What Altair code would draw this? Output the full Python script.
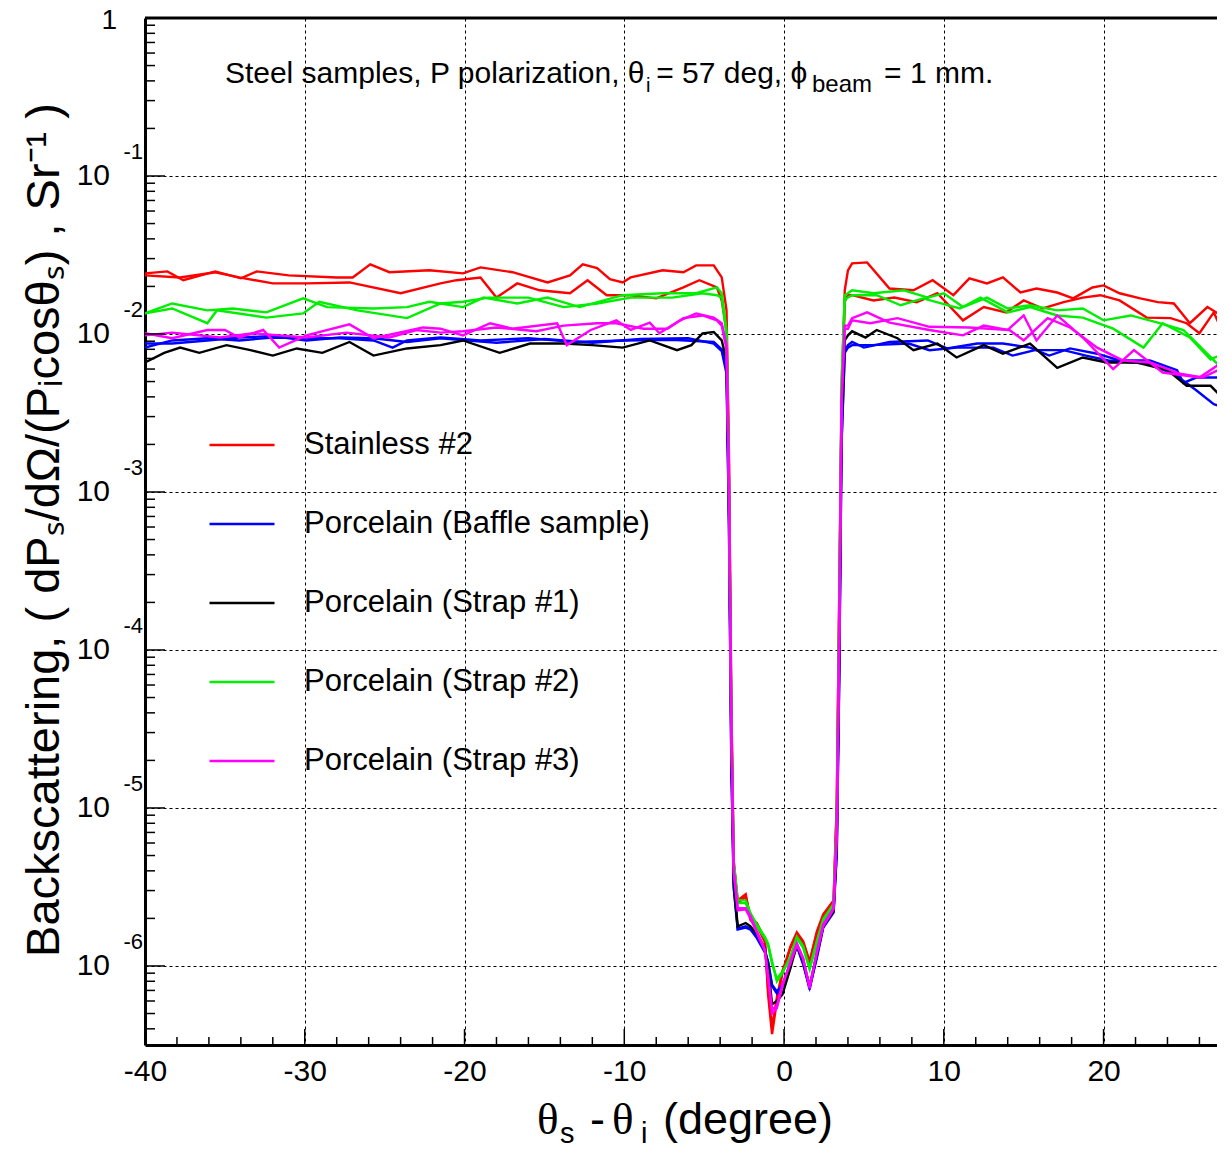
import altair as alt
import pandas as pd

# ---------------- data ----------------
SERIES = ["Stainless #2", "Porcelain (Baffle sample)", "Porcelain (Strap #1)",
          "Porcelain (Strap #2)", "Porcelain (Strap #3)"]
COLORS = ["#ff0000", "#0000ff", "#000000", "#00ee00", "#ff00ff"]

# common x grid of the specular notch
CX = [-3.6, -3.45, -3.3, -3.15, -2.9, -2.4, -2.1, -1.7, -1.2, -1.0, -0.75, -0.45,
      -0.1, 0.4, 0.8, 1.2, 1.6, 2.05, 2.45, 3.1, 3.3, 3.45, 3.6, 3.8]

# ---- Stainless #2 (red), run 1
RED1_LX = [-40, -38.6, -37.6, -35.6, -34, -33, -31, -28, -27, -25.9, -24.7, -22.2, -20.1, -19,
           -17, -14.8, -13.4, -12.6, -11.7, -10.9, -10.1, -9.6, -7.6, -6.3, -5.5, -4.4, -3.9]
RED1_LY = [0.0242, 0.0249, 0.0219, 0.0249, 0.0225, 0.0249, 0.0235, 0.0228, 0.0228, 0.0276, 0.0246,
           0.0253, 0.0242, 0.0264, 0.0246, 0.0212, 0.0235, 0.0276, 0.0261, 0.0222, 0.0212, 0.0228,
           0.0253, 0.0246, 0.0272, 0.0272, 0.0228]
RED1_CY = [0.0141, 0.00183, 4.8e-5, 4.6e-6, 2.6e-6, 2.85e-6, 2.0e-6, 1.87e-6, 1.47e-6, 6.6e-7,
           3.7e-7, 6.0e-7, 9.0e-7, 1.33e-6, 1.63e-6, 1.43e-6, 1.07e-6, 1.65e-6, 2.12e-6, 2.6e-6,
           1.1e-5, 2.05e-4, 0.0038, 0.0189]
RED1_RX = [4.0, 4.26, 5.2, 6.6, 8.1, 9.3, 10.6, 11.6, 12.7, 13.7, 14.8, 15.8, 17.1, 18.1, 19.3,
           20, 21, 22.3, 23.4, 24.4, 25.4, 26.5, 27.6]
RED1_RY = [0.0253, 0.0280, 0.0284, 0.0194, 0.0189, 0.0219, 0.0176, 0.0225, 0.0209, 0.0228, 0.0183,
           0.0194, 0.0183, 0.0168, 0.0197, 0.0203, 0.0181, 0.0168, 0.0159, 0.0156, 0.0117, 0.0148,
           0.0127]

# ---- Stainless #2 (red), run 2
RED2_LX = [-40, -37.8, -35.6, -34.1, -32, -29.9, -27.2, -24, -21.5, -20.5, -19, -18, -16.7,
           -15.3, -13.4, -12.3, -11.1, -9.6, -8, -6.3, -5.3, -4.2, -3.9]
RED2_LY = [0.0235, 0.0228, 0.0246, 0.0228, 0.0209, 0.0209, 0.0212, 0.0181, 0.0209, 0.0219, 0.0228,
           0.0170, 0.0209, 0.0189, 0.0181, 0.0219, 0.0176, 0.0176, 0.0168, 0.0197, 0.0219, 0.0197,
           0.0163]
RED2_CY = [0.0105, 0.0015, 4.2e-5, 4.4e-6, 2.5e-6, 2.75e-6, 1.95e-6, 1.8e-6, 1.42e-6, 7.2e-7,
           4.1e-7, 6.3e-7, 9.3e-7, 1.3e-6, 1.58e-6, 1.4e-6, 1.05e-6, 1.6e-6, 2.05e-6, 2.55e-6,
           1.0e-5, 1.9e-4, 0.0034, 0.0160]
RED2_RX = [4.0, 4.26, 5.6, 6.9, 8.3, 9.6, 11.2, 12.5, 13.9, 15, 16.2, 17.5, 18.7, 19.8, 21, 22.7,
           24.2, 25.2, 26, 26.9, 27.6]
RED2_RY = [0.0176, 0.0176, 0.0163, 0.0170, 0.0159, 0.0181, 0.0122, 0.0148, 0.0137, 0.0163, 0.0145,
           0.0159, 0.0170, 0.0176, 0.0163, 0.0127, 0.0126, 0.0117, 0.0101, 0.0137, 0.0095]

# ---- Porcelain (Baffle sample) (blue), run 1
BLU1_LX = [-40, -38.3, -36.1, -34.1, -32, -29.9, -27.8, -25.7, -24.5, -23.6, -21.5, -19, -16,
           -13, -10, -7, -4.4, -3.9]
BLU1_LY = [0.0082, 0.0091, 0.0094, 0.0091, 0.0095, 0.0094, 0.0094, 0.0091, 0.0082, 0.0091, 0.0095,
           0.0091, 0.0094, 0.0089, 0.0091, 0.0092, 0.0089, 0.0080]
BLU1_CY = [0.0059, 6.6e-4, 1.99e-5, 3.2e-6, 1.72e-6, 1.78e-6, 1.72e-6, 1.53e-6, 1.24e-6, 1.07e-6,
           7.45e-7, 6.7e-7, 7.45e-7, 1.04e-6, 1.36e-6, 1.04e-6, 7.1e-7, 1.15e-6, 1.78e-6, 2.22e-6,
           5.33e-6, 6.4e-5, 2.12e-3, 0.0079]
BLU1_RX = [4.0, 4.26, 5, 6.6, 9, 10.2, 12.1, 13.7, 15.4, 16.6, 17.9, 19.6, 21, 22.9, 24.6, 25,
           25.8, 27.6]
BLU1_RY = [0.0085, 0.0089, 0.0082, 0.0089, 0.0091, 0.0081, 0.0087, 0.0087, 0.0082, 0.0073, 0.0081,
           0.0075, 0.0068, 0.0068, 0.0059, 0.0049, 0.0053, 0.0053]

# ---- Porcelain (Baffle sample) (blue), run 2
BLU2_LX = [-40, -38.3, -36.1, -34.1, -32, -29.9, -27.8, -25.7, -23.6, -21.5, -18, -15, -12, -9,
           -6, -4.4, -3.9]
BLU2_LY = [0.0087, 0.0087, 0.0091, 0.0095, 0.0097, 0.0091, 0.0095, 0.0094, 0.0089, 0.0094, 0.0088,
           0.0093, 0.0088, 0.0093, 0.0094, 0.0087, 0.0078]
BLU2_CY = [0.0056, 6.2e-4, 1.9e-5, 3.1e-6, 1.7e-6, 1.75e-6, 1.7e-6, 1.5e-6, 1.22e-6, 1.05e-6,
           7.6e-7, 6.9e-7, 7.6e-7, 1.02e-6, 1.33e-6, 1.02e-6, 7.3e-7, 1.12e-6, 1.74e-6, 2.18e-6,
           5.1e-6, 6.0e-5, 2.0e-3, 0.0076]
BLU2_RX = [4.0, 4.26, 5.5, 7.8, 9.1, 10.8, 13.1, 14.3, 15.7, 17.5, 18.9, 20.3, 22.7, 24.4, 25.8,
           26.9, 27.6]
BLU2_RY = [0.0082, 0.0085, 0.0085, 0.0087, 0.0079, 0.0082, 0.0082, 0.0073, 0.0079, 0.0079, 0.0073,
           0.0068, 0.0065, 0.0056, 0.0044, 0.0036, 0.0034]

# ---- Porcelain (Strap #1) (black)
BLK_LX = [-40, -38.8, -37.8, -36.6, -34.9, -33.4, -32, -30.5, -28.9, -27.2, -25.7, -23.6, -21.5,
          -20.1, -17.8, -15.9, -13.8, -12, -10.1, -8.4, -6.7, -5.8, -5.1, -4.4, -3.9]
BLK_LY = [0.0066, 0.0076, 0.0082, 0.0076, 0.0085, 0.0079, 0.0073, 0.0081, 0.0076, 0.0089, 0.0073,
          0.0081, 0.0085, 0.0091, 0.0076, 0.0087, 0.0087, 0.0085, 0.0082, 0.0091, 0.0079, 0.0085,
          0.0101, 0.0103, 0.0091]
BLK_CY = [0.0068, 8.8e-4, 2.66e-5, 3.44e-6, 1.78e-6, 1.87e-6, 1.78e-6, 1.59e-6, 1.30e-6, 1.0e-6,
          5.73e-7, 6.0e-7, 6.6e-7, 9.7e-7, 1.36e-6, 1.07e-6, 7.45e-7, 1.19e-6, 1.78e-6, 2.22e-6,
          6.2e-6, 8.5e-5, 2.83e-3, 0.0091]
BLK_RX = [4.0, 4.26, 5.1, 5.8, 7.1, 8.1, 9.6, 10.8, 12.5, 13.7, 15.4, 17.1, 18.7, 20.2, 22.1, 24,
          25.2, 26.7, 27.6]
BLK_RY = [0.0098, 0.0104, 0.0095, 0.0106, 0.0094, 0.0079, 0.0087, 0.0071, 0.0085, 0.0075, 0.0087,
          0.0061, 0.0071, 0.0066, 0.0066, 0.0059, 0.0047, 0.0047, 0.0038]

# ---- Porcelain (Strap #2) (green), run 1
GRN1_LX = [-40, -38.3, -36.1, -34.5, -32.4, -30.1, -28.6, -25.7, -23.6, -22.2, -20.1, -18.8,
           -16.7, -14.8, -12.8, -10.1, -7.6, -5.5, -4.2, -3.9]
GRN1_LY = [0.0135, 0.0156, 0.0141, 0.0145, 0.0137, 0.0168, 0.0148, 0.0145, 0.0148, 0.0160, 0.0148,
           0.0170, 0.0156, 0.0170, 0.0148, 0.0176, 0.0181, 0.0181, 0.0197, 0.0181]
GRN1_CY = [0.0105, 0.00118, 3.56e-5, 4.6e-6, 2.6e-6, 2.6e-6, 2.16e-6, 1.83e-6, 1.53e-6, 1.39e-6,
           1.07e-6, 8.0e-7, 9.0e-7, 1.15e-6, 1.53e-6, 1.33e-6, 9.7e-7, 1.43e-6, 1.98e-6, 2.47e-6,
           8.3e-6, 1.53e-4, 0.0051, 0.0176]
GRN1_RX = [4.0, 4.26, 5.6, 7.5, 9, 10, 11.2, 12.7, 14, 15.4, 17.1, 18.7, 20, 21.7, 23.4, 25,
           27.1, 27.6]
GRN1_RY = [0.0181, 0.0189, 0.0181, 0.0189, 0.0170, 0.0181, 0.0148, 0.0170, 0.0145, 0.0152, 0.0141,
           0.0145, 0.0122, 0.0131, 0.0118, 0.0106, 0.0065, 0.0074]

# ---- Porcelain (Strap #2) (green), run 2
GRN2_LX = [-40, -38.3, -36.1, -35.5, -32.4, -30.1, -29.1, -26.7, -23.6, -21.5, -20.1, -18.5, -16,
           -13.8, -11.7, -9.6, -7, -5.1, -4.2, -3.9]
GRN2_LY = [0.0135, 0.0145, 0.0117, 0.0141, 0.0127, 0.0135, 0.0160, 0.0141, 0.0126, 0.0156, 0.0160,
           0.0170, 0.0170, 0.0148, 0.0156, 0.0170, 0.0170, 0.0181, 0.0176, 0.0170]
GRN2_CY = [0.0098, 0.0011, 3.3e-5, 4.4e-6, 2.5e-6, 2.5e-6, 2.1e-6, 1.78e-6, 1.5e-6, 1.35e-6,
           1.03e-6, 8.3e-7, 9.2e-7, 1.12e-6, 1.5e-6, 1.3e-6, 9.5e-7, 1.4e-6, 1.92e-6, 2.4e-6,
           7.9e-6, 1.45e-4, 0.0048, 0.0165]
GRN2_RX = [4.0, 4.26, 5.8, 7.3, 8.7, 11, 12.3, 14, 15.4, 17.1, 18.7, 20.6, 22.5, 23.7, 25.4, 26.7,
           27.6]
GRN2_RY = [0.0170, 0.0176, 0.0176, 0.0152, 0.0168, 0.0145, 0.0170, 0.0137, 0.0148, 0.0131, 0.0127,
           0.0108, 0.0082, 0.0117, 0.0095, 0.0069, 0.0076]

# ---- Porcelain (Strap #3) (magenta), run 1
MAG1_LX = [-40, -38.3, -36.1, -35, -34.1, -32.6, -31.6, -29.9, -27.2, -25.7, -22.6, -21.5, -20.1,
           -18.4, -17, -14.2, -13.6, -12.1, -10.5, -9.6, -8.4, -7.8, -6.5, -5.5, -4.4, -3.9]
MAG1_LY = [0.0101, 0.0094, 0.0106, 0.0106, 0.0095, 0.0106, 0.0082, 0.0098, 0.0115, 0.0094, 0.0110,
           0.0108, 0.0098, 0.0117, 0.0108, 0.0117, 0.0085, 0.0106, 0.0122, 0.0106, 0.0118, 0.0101,
           0.0122, 0.0135, 0.0127, 0.0117]
MAG1_CY = [0.0085, 0.00118, 3.56e-5, 3.99e-6, 2.32e-6, 2.32e-6, 2.07e-6, 1.65e-6, 1.28e-6, 8.4e-7,
           5.0e-7, 5.4e-7, 7.45e-7, 1.07e-6, 1.39e-6, 1.12e-6, 7.2e-7, 1.24e-6, 1.83e-6, 2.32e-6,
           7.15e-6, 1.14e-4, 0.0038, 0.0113]
MAG1_RX = [4.0, 4.26, 5.2, 6.6, 9.1, 11.2, 12.5, 14, 15, 15.8, 17.1, 18.7, 20.6, 21.9, 23.7, 26,
           27.6]
MAG1_RY = [0.0113, 0.0126, 0.0137, 0.0118, 0.0106, 0.0098, 0.0113, 0.0106, 0.0131, 0.0091, 0.0131,
           0.0095, 0.0060, 0.0079, 0.0057, 0.0053, 0.0068]

# ---- Porcelain (Strap #3) (magenta), run 2
MAG2_LX = [-40, -38.3, -35.3, -33.2, -29.9, -27.4, -24.7, -23, -21.5, -20.1, -18, -15.5, -13.8,
           -11.7, -10.5, -8.8, -7.3, -6.3, -5.1, -4.2, -3.9]
MAG2_LY = [0.0098, 0.0102, 0.0095, 0.0101, 0.0095, 0.0102, 0.0095, 0.0106, 0.0102, 0.0104, 0.0110,
           0.0104, 0.0113, 0.0117, 0.0117, 0.0108, 0.0108, 0.0126, 0.0131, 0.0122, 0.0113]
MAG2_CY = [0.0080, 0.0011, 3.4e-5, 3.9e-6, 2.25e-6, 2.28e-6, 2.0e-6, 1.62e-6, 1.25e-6, 8.8e-7,
           5.3e-7, 5.6e-7, 7.7e-7, 1.04e-6, 1.36e-6, 1.1e-6, 7.4e-7, 1.2e-6, 1.78e-6, 2.28e-6,
           6.9e-6, 1.08e-4, 0.0036, 0.0108]
MAG2_RX = [4.0, 4.26, 5.4, 7.1, 9.1, 11.6, 14.1, 15, 16.5, 17.9, 19.6, 21.2, 22.9, 24.8, 26.2,
           27.6]
MAG2_RY = [0.0108, 0.0122, 0.0117, 0.0126, 0.0111, 0.0110, 0.0106, 0.0091, 0.0126, 0.0110, 0.0082,
           0.0068, 0.0066, 0.0056, 0.0053, 0.0062]

# axis decorations
X_MAJOR = [-40, -30, -20, -10, 0, 10, 20]
X_MINOR = [-38, -36, -34, -32, -28, -26, -24, -22, -18, -16, -14, -12, -8, -6, -4, -2,
           2, 4, 6, 8, 12, 14, 16, 18, 22, 24, 26]
Y_DECADES = [1e-1, 1e-2, 1e-3, 1e-4, 1e-5, 1e-6]
Y_EXPONENTS = ["-1", "-2", "-3", "-4", "-5", "-6"]
Y_MINOR = [m * 10.0 ** e for e in range(-7, 0) for m in range(2, 10) if m * 10.0 ** e >= 3.2e-7]

# ---------------- build table ----------------
traces = [
    ("r1", SERIES[0], RED1_LX, RED1_LY, RED1_CY, RED1_RX, RED1_RY),
    ("r2", SERIES[0], RED2_LX, RED2_LY, RED2_CY, RED2_RX, RED2_RY),
    ("b1", SERIES[1], BLU1_LX, BLU1_LY, BLU1_CY, BLU1_RX, BLU1_RY),
    ("b2", SERIES[1], BLU2_LX, BLU2_LY, BLU2_CY, BLU2_RX, BLU2_RY),
    ("k1", SERIES[2], BLK_LX, BLK_LY, BLK_CY, BLK_RX, BLK_RY),
    ("g1", SERIES[3], GRN1_LX, GRN1_LY, GRN1_CY, GRN1_RX, GRN1_RY),
    ("g2", SERIES[3], GRN2_LX, GRN2_LY, GRN2_CY, GRN2_RX, GRN2_RY),
    ("m1", SERIES[4], MAG1_LX, MAG1_LY, MAG1_CY, MAG1_RX, MAG1_RY),
    ("m2", SERIES[4], MAG2_LX, MAG2_LY, MAG2_CY, MAG2_RX, MAG2_RY),
]
rows = []
for tid, name, lx, ly, cy, rx, ry in traces:
    xs = list(lx) + list(CX) + list(rx)
    ys = list(ly) + list(cy) + list(ry)
    for i, (a, b) in enumerate(zip(xs, ys)):
        rows.append({"trace": tid, "series": name, "x": a, "y": b, "i": i})
df = pd.DataFrame(rows)

W, H = 1072, 1027
FONT = "Liberation Sans"
SERIF = "Liberation Serif"
xsc = alt.Scale(domain=[-40, 27.1], nice=False, zero=False)
ysc = alt.Scale(type="log", domain=[3.16e-7, 1], nice=False)

AX = alt.Axis(values=X_MAJOR, title=None, labelFontSize=30, labelFont=FONT, labelColor="black",
              tickSize=0, labelPadding=11, labelFlush=False, labelExpr="'' + datum.value",
              domainColor="black", domainWidth=3,
              grid=True, gridColor="black", gridDash=[3, 3], gridWidth=1, gridOpacity=1)
AY = alt.Axis(values=Y_DECADES, title=None, labels=False, ticks=False,
              domainColor="black", domainWidth=3,
              grid=True, gridColor="black", gridDash=[3, 3], gridWidth=1, gridOpacity=1)


def X(field):
    return alt.X(field, scale=xsc, axis=AX)


def Y(field):
    return alt.Y(field, scale=ysc, axis=AY)


lines = alt.Chart(df).mark_line(strokeWidth=2.4, clip=True).encode(
    x=X("x:Q"),
    y=Y("y:Q"),
    color=alt.Color("series:N", scale=alt.Scale(domain=SERIES, range=COLORS),
                    legend=alt.Legend(orient="none", legendX=63, legendY=393, title=None,
                                      symbolType="stroke", symbolSize=4225,
                                      symbolStrokeWidth=2.5, labelFontSize=31,
                                      labelFont=FONT, labelColor="black", rowPadding=30,
                                      labelOffset=28, padding=0, labelLimit=800)),
    detail="trace:N",
    order=alt.Order("i:Q"),
)

xmaj_df = pd.DataFrame({"x": X_MAJOR[1:]})
xmin_df = pd.DataFrame({"x": X_MINOR})
ymaj_df = pd.DataFrame({"y": Y_DECADES})
ymin_df = pd.DataFrame({"y": Y_MINOR})

xmaj_ticks = alt.Chart(xmaj_df).mark_rule(color="black", strokeWidth=1.5).encode(
    x=X("x:Q"), y=alt.value(H), y2=alt.value(H - 16))
xmin_ticks = alt.Chart(xmin_df).mark_rule(color="black", strokeWidth=1.5).encode(
    x=X("x:Q"), y=alt.value(H), y2=alt.value(H - 8))
ymaj_ticks = alt.Chart(ymaj_df).mark_rule(color="black", strokeWidth=1.5).encode(
    y=Y("y:Q"), x=alt.value(0), x2=alt.value(20))
ymin_ticks = alt.Chart(ymin_df).mark_rule(color="black", strokeWidth=1.5).encode(
    y=Y("y:Q"), x=alt.value(0), x2=alt.value(10))

top_df = pd.DataFrame({"k": [0]})
top_line = alt.Chart(top_df).mark_rule(color="black", strokeWidth=3).encode(
    y=alt.value(0), x=alt.value(0), x2=alt.value(W))

ylab_df = pd.DataFrame({"y": Y_DECADES, "base": ["10"] * len(Y_DECADES), "exp": Y_EXPONENTS})
ylab10 = alt.Chart(ylab_df).mark_text(align="right", baseline="middle", dx=-35,
                                       fontSize=30, font=FONT, color="black").encode(
    y=Y("y:Q"), x=alt.value(0), text="base:N")
ylabexp = alt.Chart(ylab_df).mark_text(align="right", baseline="middle", dx=-2, dy=-24,
                                        fontSize=22, font=FONT, color="black").encode(
    y=Y("y:Q"), x=alt.value(0), text="exp:N")
one_df = pd.DataFrame({"y": [1.0], "t": ["1"]})
ylab1 = alt.Chart(one_df).mark_text(align="right", baseline="alphabetic", dx=-28, dy=11,
                                     fontSize=28, font=FONT, color="black").encode(
    y=Y("y:Q"), x=alt.value(0), text="t:N")

# annotation placed in data coordinates
ann_df = pd.DataFrame({
    "x": [-35.0, -8.64, -8.0, 1.75, 6.26],
    "y": [0.387, 0.340, 0.387, 0.340, 0.387],
    "t": ["Steel samples, P polarization, θ", "i", "= 57 deg, ϕ", "beam", "= 1 mm."],
    "s": [30, 20, 30, 24, 30],
})
annot = alt.Chart(ann_df).mark_text(align="left", baseline="alphabetic", font=FONT,
                                     color="black").encode(
    x=X("x:Q"), y=Y("y:Q"),
    text="t:N", size=alt.Size("s:Q", scale=None, legend=None))


def label_piece(text, px, py, size, font, angle=0, align="left", baseline="alphabetic"):
    d = pd.DataFrame({"t": [text]})
    kw = dict(align=align, baseline=baseline, fontSize=size, font=font, color="black")
    if angle:
        kw["angle"] = angle
    return alt.Chart(d).mark_text(**kw).encode(x=alt.value(px), y=alt.value(py), text="t:N")


XT = 1116
xtitle = [
    label_piece("θ", 392, XT, 45, SERIF),
    label_piece("s", 415, XT + 9, 29, FONT),
    label_piece("-", 445, XT, 45, FONT),
    label_piece("θ", 467, XT, 45, SERIF),
    label_piece("i", 496, XT + 9, 29, FONT),
    label_piece("(degree)", 518, XT, 45, FONT),
]
ytitle = label_piece("Backscattering, ( dPₛ/dΩ/(Pᵢcosθₛ) , Sr⁻¹ )", -100, 512, 47, FONT,
                     angle=270, align="center", baseline="middle")

chart = alt.layer(
    lines, xmaj_ticks, xmin_ticks, ymaj_ticks, ymin_ticks, top_line,
    ylab10, ylabexp, ylab1, annot, *xtitle, ytitle,
).properties(
    width=W, height=H,
    autosize=alt.AutoSizeParams(type="none"),
    padding={"left": 137, "top": 10, "right": 0, "bottom": 101},
).configure(font=FONT).configure_view(stroke="transparent")

chart.save("out.html", embed_options={"renderer": "svg", "actions": False})
